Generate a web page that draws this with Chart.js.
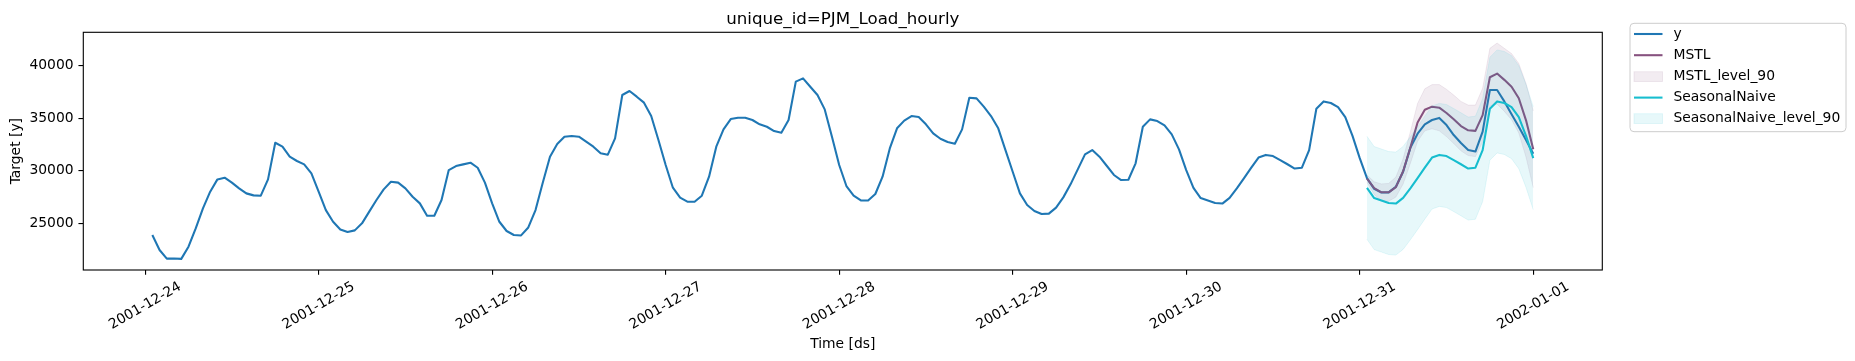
<!DOCTYPE html>
<html><head><meta charset="utf-8">
<script src="https://cdn.jsdelivr.net/npm/chart.js@4.4.1/dist/chart.umd.min.js"></script>
<style>html,body{margin:0;padding:0;background:#fff;}canvas{display:block;}</style>
</head><body>
<canvas id="c" width="1855" height="361"></canvas>
<script>
// ---------- data ----------
const chartTitle = 'unique_id=PJM_Load_hourly';
const xAxisTitle = 'Time [ds]';
const yAxisTitle = 'Target [y]';
// x positions are hours after 2001-12-24 00:00
const dayTickHours = [0, 24, 48, 72, 96, 120, 144, 168, 192];
const dayTickLabels = ['2001-12-24','2001-12-25','2001-12-26','2001-12-27','2001-12-28','2001-12-29','2001-12-30','2001-12-31','2002-01-01'];
const yTickValues = [25000, 30000, 35000, 40000];
const firstHour = 1;          // 2001-12-24 01:00
const forecastFirstHour = 169; // 2001-12-31 01:00

const yValues = [
 23890,22460,21640,21660,21620,22780,24520,26420,28010,29180,
 29340,28870,28330,27850,27660,27630,29180,32670,32290,31340,
 30930,30610,29750,28010,26260,25150,24420,24170,24330,25000,
 26110,27220,28230,28960,28870,28330,27530,26900,25720,25720,
 27220,30070,30450,30610,30770,30290,28870,26900,25150,24270,
 23890,23850,24610,26260,28870,31340,32540,33240,33310,33240,
 32770,32290,31660,31530,33080,37210,37590,37050,36480,35210,
 32930,30550,28390,27440,27060,27060,27630,29440,32290,33940,
 34920,35050,35050,34830,34420,34190,33780,33620,34830,38480,
 38790,38000,37210,35840,33240,30550,28550,27630,27180,27180,
 27790,29440,32130,34040,34770,35210,35110,34420,33560,33050,
 32740,32580,33940,36950,36890,36100,35210,34040,31970,29910,
 27850,26740,26170,25880,25920,26490,27470,28710,30130,31560,
 31970,31340,30480,29600,29120,29150,30710,34190,34890,34730,
 34320,33460,32040,30070,28380,27400,27170,26930,26880,27420,
 28330,29300,30300,31260,31510,31400,31020,30620,30210,30290,
 31970,35900,36600,36450,36050,35100,33320,31200,29300,28280,
 27930,27940,28480,29910,32180,33530,34420,34830,35030,34350,
 33400,32640,31970,31830,33720,37680,37680,36600,35380,34190,
 32930,31620
];
const mstlValues = [29250,28350,27950,27950,28450,29950,32200,34600,35800,36100,36000,35500,
                    34900,34250,33850,33800,35300,38900,39250,38650,38000,36900,34800,32050];
const mstlHi90 = [29600,28950,28750,28800,29400,31150,33700,36400,37800,38200,38200,37750,
                  37200,36600,36250,36250,37850,41650,42150,41650,41150,40200,38300,35700];
const mstlLo90 = [28900,27750,27150,27100,27500,28750,30700,32800,33800,34000,33800,33250,
                  32600,31900,31450,31350,32750,36150,36350,35650,34850,33600,31300,28400];
const snValues = [28380,27400,27170,26930,26880,27420,28330,29300,30300,31260,31510,31400,
                  31020,30620,30210,30290,31970,35900,36600,36450,36050,35100,33320,31200];
const snHi90 = [33280,32300,32070,31830,31780,32320,33230,34200,35200,36160,36410,36300,
                35920,35520,35110,35190,36870,40800,41500,41350,40950,40000,38220,36100];
const snLo90 = [23480,22500,22270,22030,21980,22520,23430,24400,25400,26360,26610,26500,
                26120,25720,25310,25390,27070,31000,31700,31550,31150,30200,28420,26300];

// ---------- styling ----------
const FONT = 'DejaVu Sans';
const C_Y = '#1f77b4', C_MSTL = '#87527f', C_SN = '#17becf';
const F_MSTL = 'rgba(123,65,115,0.10)', F_SN = 'rgba(23,190,207,0.10)';
const LW = 2.08;
const AREA = {left: 83.3, right: 1602.3, top: 32.3, bottom: 270};

const pts = (start, vals) => vals.map((v, i) => ({x: start + i, y: v}));

const decor = {
  id: 'decor',
  afterDraw(chart) {
    const ctx = chart.ctx, ca = chart.chartArea, xs = chart.scales.x;
    ctx.save();
    // spines
    ctx.strokeStyle = '#000'; ctx.lineWidth = 1.11;
    ctx.strokeRect(ca.left, ca.top, ca.right - ca.left, ca.bottom - ca.top);
    ctx.fillStyle = '#000';
    // title
    ctx.font = '16.67px "' + FONT + '"';
    ctx.textAlign = 'center'; ctx.textBaseline = 'alphabetic';
    ctx.fillText(chartTitle, (ca.left + ca.right) / 2, 24);
    // x tick labels (rotated 30deg, centered under tick)
    ctx.font = '13.89px "' + FONT + '"';
    dayTickHours.forEach((h, i) => {
      const px = xs.getPixelForValue(h);
      ctx.save();
      ctx.translate(px, 306);
      ctx.rotate(-Math.PI / 6);
      ctx.textAlign = 'center'; ctx.textBaseline = 'middle';
      ctx.fillText(dayTickLabels[i], 0, 0);
      ctx.restore();
    });
    // axis titles
    ctx.textAlign = 'center'; ctx.textBaseline = 'middle';
    ctx.fillText(xAxisTitle, (ca.left + ca.right) / 2, 344);
    ctx.save();
    ctx.translate(16, (ca.top + ca.bottom) / 2);
    ctx.rotate(-Math.PI / 2);
    ctx.fillText(yAxisTitle, 0, 0);
    ctx.restore();
    // legend
    const lx = 1630, ly = 23.3, lw = 216, lh = 108.4, r = 4;
    ctx.beginPath();
    ctx.moveTo(lx + r, ly); ctx.lineTo(lx + lw - r, ly); ctx.quadraticCurveTo(lx + lw, ly, lx + lw, ly + r);
    ctx.lineTo(lx + lw, ly + lh - r); ctx.quadraticCurveTo(lx + lw, ly + lh, lx + lw - r, ly + lh);
    ctx.lineTo(lx + r, ly + lh); ctx.quadraticCurveTo(lx, ly + lh, lx, ly + lh - r);
    ctx.lineTo(lx, ly + r); ctx.quadraticCurveTo(lx, ly, lx + r, ly); ctx.closePath();
    ctx.fillStyle = 'rgba(255,255,255,0.8)'; ctx.fill();
    ctx.strokeStyle = '#cccccc'; ctx.lineWidth = 1.0; ctx.stroke();
    const items = [
      {label: 'y', type: 'line', color: C_Y},
      {label: 'MSTL', type: 'line', color: C_MSTL},
      {label: 'MSTL_level_90', type: 'patch', color: F_MSTL},
      {label: 'SeasonalNaive', type: 'line', color: C_SN},
      {label: 'SeasonalNaive_level_90', type: 'patch', color: F_SN}
    ];
    const rows = [34, 55.2, 76.6, 97.6, 118.6];
    items.forEach((it, i) => {
      const y = rows[i];
      if (it.type === 'line') {
        ctx.strokeStyle = it.color; ctx.lineWidth = LW;
        ctx.beginPath(); ctx.moveTo(1634, y); ctx.lineTo(1662.5, y); ctx.stroke();
      } else {
        ctx.fillStyle = it.color; ctx.fillRect(1634, y - 4.9, 28.5, 9.8);
        ctx.strokeStyle = it.color; ctx.lineWidth = 1; ctx.strokeRect(1634, y - 4.9, 28.5, 9.8);
      }
      ctx.fillStyle = '#000';
      ctx.textAlign = 'left'; ctx.textBaseline = 'middle';
      ctx.font = '13.89px "' + FONT + '"';
      ctx.fillText(it.label, 1673.5, y);
    });
    ctx.restore();
  }
};

const gridOpts = {display: true, drawOnChartArea: false, drawTicks: true, tickLength: 4.86, color: '#000', lineWidth: 1.11};

new Chart(document.getElementById('c'), {
  type: 'line',
  data: {
    datasets: [
      {label: 'SeasonalNaive_level_90', data: pts(forecastFirstHour, snHi90), fill: 1,
       backgroundColor: F_SN, borderColor: F_SN, borderWidth: 1},
      {label: 'sn_lo', data: pts(forecastFirstHour, snLo90), fill: false,
       borderColor: F_SN, borderWidth: 1},
      {label: 'SeasonalNaive', data: pts(forecastFirstHour, snValues), fill: false,
       borderColor: C_SN, borderWidth: LW},
      {label: 'MSTL_level_90', data: pts(forecastFirstHour, mstlHi90), fill: 4,
       backgroundColor: F_MSTL, borderColor: F_MSTL, borderWidth: 1},
      {label: 'mstl_lo', data: pts(forecastFirstHour, mstlLo90), fill: false,
       borderColor: F_MSTL, borderWidth: 1},
      {label: 'MSTL', data: pts(forecastFirstHour, mstlValues), fill: false,
       borderColor: C_MSTL, borderWidth: LW},
      {label: 'y', data: pts(firstHour, yValues), fill: false,
       borderColor: C_Y, borderWidth: LW}
    ]
  },
  options: {
    responsive: false, animation: false, devicePixelRatio: 1,
    layout: {padding: {left: 0, top: AREA.top, right: 1855 - AREA.right, bottom: 0}},
    elements: {point: {radius: 0, hoverRadius: 0}, line: {tension: 0, borderCapStyle: 'butt', borderJoinStyle: 'round'}},
    plugins: {legend: {display: false}, title: {display: false}, tooltip: {enabled: false}},
    events: [],
    scales: {
      x: {
        type: 'linear', min: -8.55, max: 201.55,
        afterBuildTicks: s => { s.ticks = dayTickHours.map(v => ({value: v})); },
        afterFit: s => { s.height = 361 - AREA.bottom; },
        ticks: {display: false},
        grid: gridOpts, border: {display: false}
      },
      y: {
        type: 'linear', min: 20560, max: 43175,
        afterBuildTicks: s => { s.ticks = yTickValues.map(v => ({value: v})); },
        afterFit: s => { s.width = AREA.left; },
        ticks: {font: {family: FONT, size: 13.89}, color: '#000', padding: 4.86, callback: v => String(v)},
        grid: gridOpts, border: {display: false}
      }
    }
  },
  plugins: [decor]
});
</script>
</body></html>
